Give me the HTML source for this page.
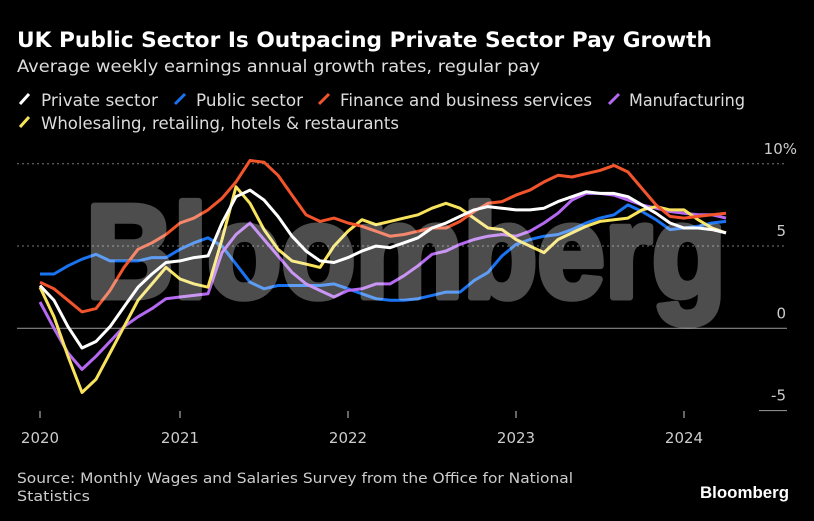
<!DOCTYPE html>
<html><head><meta charset="utf-8"><style>
html,body{margin:0;padding:0;background:#000;}
svg{display:block;font-family:"DejaVu Sans","Liberation Sans",sans-serif;}
</style></head><body>
<svg id="chart" width="814" height="521" viewBox="0 0 814 521">
<rect width="814" height="521" fill="#000"/>
<text x="17" y="47" fill="#fff" font-weight="bold" font-size="21" textLength="695" lengthAdjust="spacingAndGlyphs">UK Public Sector Is Outpacing Private Sector Pay Growth</text>
<text x="17" y="72" fill="#ddd" font-size="17" textLength="523" lengthAdjust="spacingAndGlyphs">Average weekly earnings annual growth rates, regular pay</text>
<g font-size="17" fill="#ddd">
 <g><line x1="20" y1="104" x2="29" y2="94" stroke="#fff" stroke-width="3"/><text x="41" y="106" textLength="117" lengthAdjust="spacingAndGlyphs">Private sector</text></g>
 <g><line x1="175" y1="104" x2="185" y2="94" stroke="#1a73f0" stroke-width="3"/><text x="196" y="106" textLength="107" lengthAdjust="spacingAndGlyphs">Public sector</text></g>
 <g><line x1="319" y1="104" x2="329" y2="94" stroke="#f2552c" stroke-width="3"/><text x="340" y="106" textLength="252" lengthAdjust="spacingAndGlyphs">Finance and business services</text></g>
 <g><line x1="609" y1="104" x2="619" y2="94" stroke="#b469f0" stroke-width="3"/><text x="629" y="106" textLength="116" lengthAdjust="spacingAndGlyphs">Manufacturing</text></g>
 <g><line x1="20" y1="127" x2="29" y2="117" stroke="#f8e45c" stroke-width="3"/><text x="41" y="129" textLength="358" lengthAdjust="spacingAndGlyphs">Wholesaling, retailing, hotels &amp; restaurants</text></g>
</g>
<g id="axes"></g>
<g id="series"></g>
<text x="86" y="297" font-family="Liberation Sans, sans-serif" font-weight="bold" font-size="132" fill="#fff" stroke="#fff" stroke-width="7" stroke-linejoin="round" opacity="0.3" textLength="640" lengthAdjust="spacingAndGlyphs">Bloomberg</text>
<text x="17" y="483" fill="#ccc" font-size="14.5" textLength="556" lengthAdjust="spacingAndGlyphs">Source: Monthly Wages and Salaries Survey from the Office for National</text>
<text x="17" y="501" fill="#ccc" font-size="14.5" textLength="73" lengthAdjust="spacingAndGlyphs">Statistics</text>
<text x="700" y="498" fill="#fff" font-family="Liberation Sans, sans-serif" font-weight="bold" font-size="17" textLength="89" lengthAdjust="spacingAndGlyphs">Bloomberg</text>
</svg>
<script>
const yTicks = [10, 5, 0, -5];
const yTickLabels = ["10%", "5", "0", "-5"];
const xYears = [2020, 2021, 2022, 2023, 2024];
const xTickLabels = ["2020", "2021", "2022", "2023", "2024"];
const startYear = 2020, startMonth = 2; // March 2020 (0-based month)
const privateSector = [2.6,1.7,0.1,-1.2,-0.8,0.1,1.3,2.5,3.3,4.0,4.1,4.3,4.4,6.4,8.0,8.4,7.8,6.8,5.6,4.7,4.1,4.0,4.3,4.7,5.0,4.9,5.2,5.5,6.1,6.4,6.8,7.2,7.4,7.3,7.2,7.2,7.3,7.7,8.0,8.3,8.2,8.2,8.0,7.5,7.0,6.4,6.1,6.1,6.0,5.8];
const publicSector = [3.3,3.3,3.8,4.2,4.5,4.1,4.1,4.1,4.3,4.3,4.8,5.2,5.5,5.0,3.9,2.8,2.4,2.6,2.6,2.6,2.6,2.7,2.4,2.1,1.8,1.7,1.7,1.8,2.0,2.2,2.2,2.9,3.4,4.4,5.1,5.4,5.6,5.7,6.0,6.4,6.7,6.9,7.5,7.1,6.6,6.0,6.1,6.2,6.4,6.5];
const finance = [2.8,2.4,1.7,1.0,1.2,2.3,3.7,4.8,5.2,5.7,6.4,6.7,7.2,7.9,8.9,10.2,10.1,9.3,8.1,6.9,6.5,6.7,6.4,6.2,5.9,5.6,5.7,5.9,6.1,6.1,6.5,7.1,7.6,7.7,8.1,8.4,8.9,9.3,9.2,9.4,9.6,9.9,9.5,8.5,7.5,6.8,6.7,6.8,6.9,7.0];
const manufacturing = [1.6,0.0,-1.5,-2.5,-1.7,-0.8,0.1,0.7,1.2,1.8,1.9,2.0,2.1,4.6,5.7,6.4,5.4,4.4,3.4,2.7,2.3,1.9,2.3,2.4,2.7,2.7,3.2,3.8,4.5,4.7,5.1,5.4,5.6,5.7,5.6,5.9,6.4,7.0,7.8,8.2,8.2,8.1,7.8,7.5,7.3,7.1,7.0,6.9,6.9,6.7];
const wholesaling = [2.5,0.7,-1.7,-3.9,-3.1,-1.5,0.1,1.7,2.7,3.7,3.0,2.7,2.5,5.4,8.6,7.6,6.0,4.8,4.1,3.9,3.7,5.0,5.9,6.6,6.3,6.5,6.7,6.9,7.3,7.6,7.3,6.7,6.1,6.0,5.4,5.0,4.6,5.4,5.8,6.2,6.5,6.6,6.7,7.2,7.4,7.2,7.2,6.6,6.1,5.8];

const NS = "http://www.w3.org/2000/svg";
function yScale(v){ return 328.3 - v * 16.45; }
function monthX(i){ return 40 + 14 * i; } // i = months since Mar 2020
function yearX(yr){ const i = (yr - startYear) * 12 - startMonth; return yr === startYear ? 40 : monthX(i); }
const axes = document.getElementById('axes');
yTicks.forEach((t, k) => {
  const y = yScale(t);
  const ln = document.createElementNS(NS, 'line');
  
  
  if (t === 0) { ln.setAttribute('x1', 17); ln.setAttribute('x2', 787); ln.setAttribute('stroke', '#888'); ln.setAttribute('stroke-width', '1.2'); }
  else if (t === -5) { ln.setAttribute('x1', 759); ln.setAttribute('x2', 787); ln.setAttribute('stroke', '#888'); ln.setAttribute('stroke-width', '1.2'); }
  else { ln.setAttribute('x1', 17); ln.setAttribute('x2', 785); ln.setAttribute('stroke', '#777'); ln.setAttribute('stroke-dasharray', '2 3'); }
  ln.setAttribute('y1', y); ln.setAttribute('y2', y);
  axes.appendChild(ln);
  const tx = document.createElementNS(NS, 'text');
  
  
  tx.setAttribute('x', t === 10 ? 797 : 786);
  tx.setAttribute('y', y - 10);
  tx.setAttribute('text-anchor', 'end');
  tx.setAttribute('fill', '#ccc');
  tx.setAttribute('font-size', '15');
  tx.textContent = yTickLabels[k];
  axes.appendChild(tx);
});
xYears.forEach((yr, k) => {
  const x = yearX(yr);
  const tk = document.createElementNS(NS, 'line');
  
  
  tk.setAttribute('x1', x); tk.setAttribute('x2', x);
  tk.setAttribute('y1', 411); tk.setAttribute('y2', 418);
  tk.setAttribute('stroke', '#ccc');
  axes.appendChild(tk);
  const tx = document.createElementNS(NS, 'text');
  
  
  tx.setAttribute('x', x); tx.setAttribute('y', 443);
  tx.setAttribute('text-anchor', 'middle');
  tx.setAttribute('fill', '#ccc');
  tx.setAttribute('font-size', '15');
  tx.textContent = xTickLabels[k];
  axes.appendChild(tx);
});
const seriesG = document.getElementById('series');
function drawLine(vals, color, name){
  const p = document.createElementNS(NS, 'polyline');
  
  
  p.setAttribute('points', vals.map((v, i) => monthX(i) + ',' + yScale(v).toFixed(1)).join(' '));
  p.setAttribute('fill', 'none');
  p.setAttribute('stroke', color);
  p.setAttribute('stroke-width', '3');
  p.setAttribute('stroke-linejoin', 'round');
  seriesG.appendChild(p);
}
drawLine(publicSector, '#1a73f0', 'public-sector-line');
drawLine(manufacturing, '#b469f0', 'manufacturing-line');
drawLine(wholesaling, '#f8e45c', 'wholesaling-line');
drawLine(finance, '#f2552c', 'finance-line');
drawLine(privateSector, '#ffffff', 'private-sector-line');
</script>
</body></html>
